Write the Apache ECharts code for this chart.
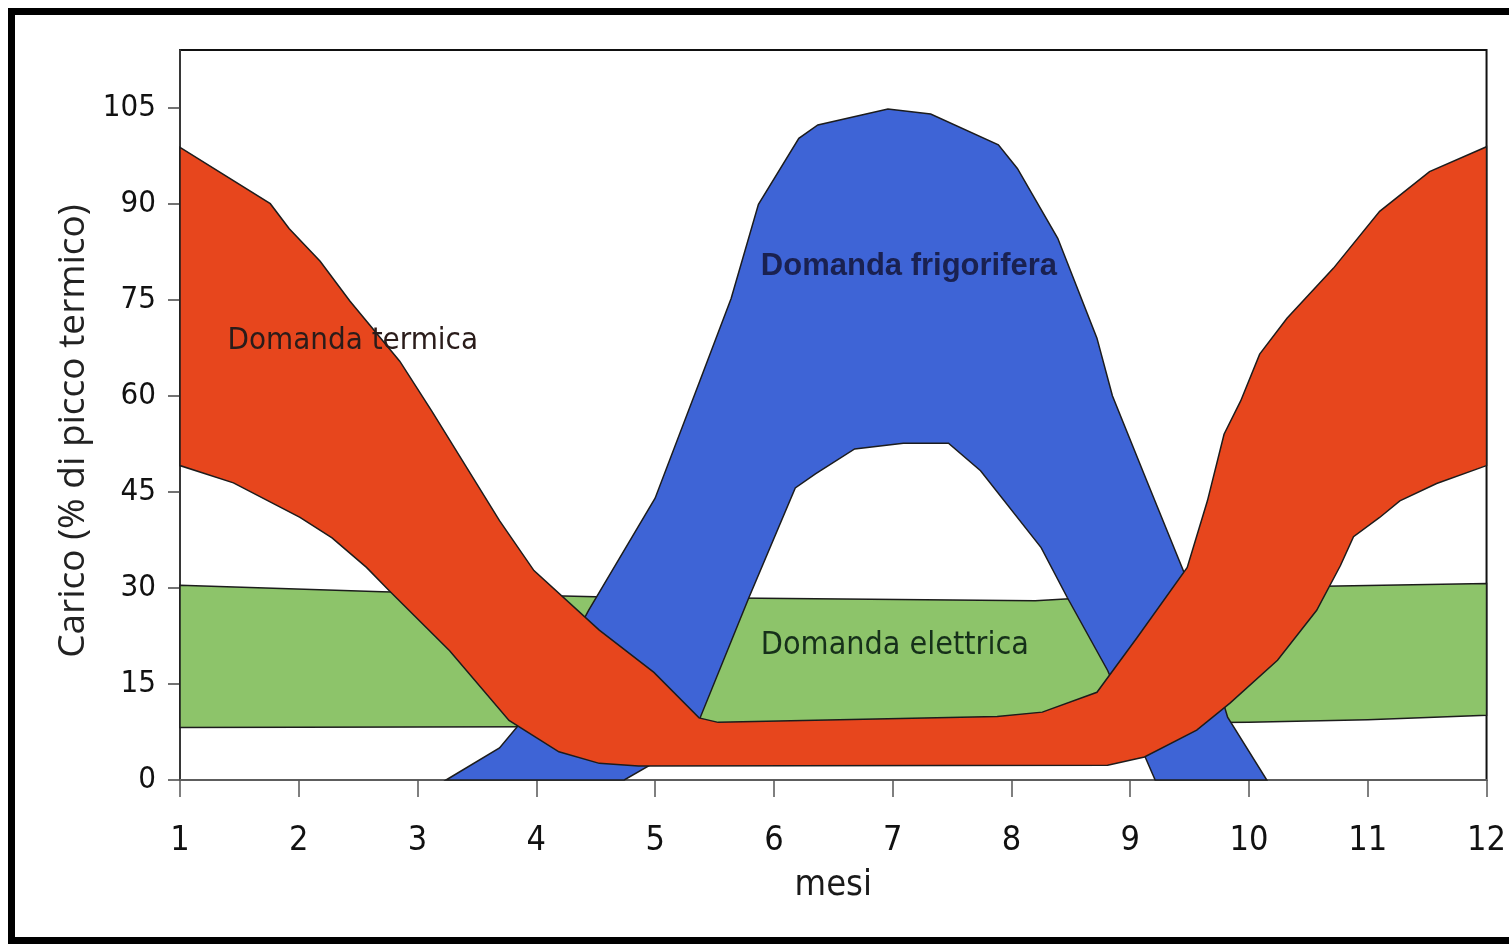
<!DOCTYPE html>
<html>
<head>
<meta charset="utf-8">
<script src="https://cdn.jsdelivr.net/npm/echarts@6/dist/echarts.min.js"></script>
<style>
  html, body { margin: 0; padding: 0; background: #fff; }
  #chart { position: absolute; left: 0; top: 0; width: 1509px; height: 944px; }
  #frame {
    position: absolute; left: 8px; top: 8px; width: 1501px; height: 936px;
    box-sizing: border-box; border: 7px solid #000; border-right: none;
    pointer-events: none;
  }
</style>
</head>
<body>
<div id="chart"></div>
<div id="frame"></div>
<script>
// mesi e tacche
const months = [1, 2, 3, 4, 5, 6, 7, 8, 9, 10, 11, 12];
const yTicks = [0, 15, 30, 45, 60, 75, 90, 105];

// bordi delle fasce: [mese, carico %]
const elecUpper = [[1, 30.4], [2.7, 29.4], [4.5, 28.6], [8.2, 28.0], [9.5, 29.4], [10.5, 30.2], [12, 30.7]];
const elecLower = [[1, 8.2], [4, 8.3], [8, 8.7], [10, 9.0], [11, 9.4], [12, 10.1]];

const coolUpper = [[3.24, 0], [3.69, 5.0], [4.05, 13], [4.44, 26.5], [5.0, 44], [5.37, 62], [5.64, 75.2],
  [5.87, 89.9], [6.21, 100.2], [6.37, 102.3], [6.96, 104.8], [7.32, 104.0], [7.89, 99.2], [8.05, 95.5],
  [8.39, 84.6], [8.72, 69], [8.85, 60], [9.14, 46.7], [9.48, 31.2], [9.82, 9.8], [10.15, 0]];
const coolLower = [[4.74, 0], [5.03, 3.1], [5.37, 9.3], [5.79, 28.5], [6.18, 45.6], [6.35, 47.8],
  [6.68, 51.7], [7.09, 52.6], [7.47, 52.6], [7.74, 48.3], [8.25, 36.3], [8.47, 28.5], [8.81, 17.1], [9.21, 0]];

const heatUpper = [[1, 98.8], [1.76, 90.0], [1.92, 86.1], [2.18, 81.0], [2.43, 74.8], [2.85, 65.4],
  [3.12, 57.6], [3.69, 40.5], [3.98, 32.7], [4.53, 23.4], [4.99, 16.8], [5.37, 9.7], [5.53, 9.0],
  [7.88, 9.9], [8.26, 10.6], [8.72, 13.7], [9.06, 22.3], [9.48, 33.2], [9.65, 43.6], [9.79, 54.0],
  [9.93, 59.2], [10.09, 66.5], [10.32, 72.1], [10.71, 79.9], [11.1, 88.8], [11.52, 95.0], [12, 98.9]];
const heatLower = [[1, 49.1], [1.45, 46.4], [2.01, 41.0], [2.28, 37.8], [2.57, 33.2], [2.76, 29.6],
  [3.27, 20.2], [3.77, 9.3], [4.19, 4.4], [4.53, 2.6], [4.86, 2.2], [8.81, 2.3], [9.12, 3.6],
  [9.56, 7.8], [9.84, 12.0], [10.24, 18.7], [10.57, 26.5], [10.77, 33.5], [10.88, 38.0], [11.1, 41.0],
  [11.27, 43.6], [11.58, 46.3], [12, 49.1]];

function band(name, upper, lower, color) {
  return {
    name: name,
    type: 'custom',
    coordinateSystem: 'cartesian2d',
    silent: true,
    data: [upper[0]],
    renderItem: function (params, api) {
      const pts = upper.concat(lower.slice().reverse()).map(p => api.coord(p));
      return {
        type: 'polygon',
        shape: { points: pts },
        style: { fill: color, stroke: '#1c1c1c', lineWidth: 1.5 }
      };
    }
  };
}

const chart = echarts.init(document.getElementById('chart'));
const narrow = '"Liberation Sans Narrow", "DejaVu Sans Condensed", sans-serif';

chart.setOption({
  animation: false,
  backgroundColor: '#fff',
  grid: { left: 180, top: 50, right: 19, bottom: 164, show: true, borderColor: '#111', borderWidth: 2 },
  xAxis: {
    type: 'value', min: 1, max: 12, interval: 1,
    name: 'mesi', nameLocation: 'middle', nameGap: 88,
    nameTextStyle: { fontFamily: narrow, fontSize: 36, color: '#1a1a1a' },
    axisLine: { show: true, lineStyle: { color: '#777', width: 1.5 } },
    axisTick: { show: true, length: 17, lineStyle: { color: '#555', width: 1.5 } },
    axisLabel: {
      customValues: months,
      fontFamily: narrow, fontSize: 34, color: '#111', margin: 44
    },
    splitLine: { show: false }
  },
  yAxis: {
    type: 'value', min: 0, max: 114, interval: 15,
    name: 'Carico (% di picco termico)', nameLocation: 'middle', nameGap: 86,
    nameTextStyle: { fontFamily: '"Open Sans", sans-serif', fontSize: 37, color: '#222', padding: [0, 32, 0, 0] },
    axisLine: { show: true, lineStyle: { color: '#444', width: 1.5 } },
    axisTick: { show: true, customValues: yTicks, length: 12, lineStyle: { color: '#444', width: 1.5 } },
    axisLabel: {
      customValues: yTicks,
      fontFamily: narrow, fontSize: 31, color: '#111', margin: 24
    },
    splitLine: { show: false }
  },
  series: [
    band('Domanda elettrica', elecUpper, elecLower, '#8dc46a'),
    band('Domanda frigorifera', coolUpper, coolLower, '#3e64d6'),
    band('Domanda termica', heatUpper, heatLower, '#e7461d')
  ]
});

function at(m, v) { return chart.convertToPixel({ gridIndex: 0 }, [m, v]); }
const pTerm = at(1.40, 68.5), pFrig = at(5.89, 80.2), pElet = at(5.89, 21.0);
chart.setOption({
  graphic: [
    { type: 'text', x: pTerm[0], y: pTerm[1], z: 100, silent: true,
      style: { text: 'Domanda termica', fill: '#2a1c1a', font: '31px "DejaVu Sans Condensed", sans-serif', verticalAlign: 'middle' } },
    { type: 'text', x: pFrig[0], y: pFrig[1], z: 100, silent: true,
      style: { text: 'Domanda frigorifera', fill: '#1a2150', font: 'bold 31px "Liberation Sans Narrow", sans-serif', verticalAlign: 'middle' } },
    { type: 'text', x: pElet[0], y: pElet[1], z: 100, silent: true,
      style: { text: 'Domanda elettrica', fill: '#16301a', font: '32px "DejaVu Sans Condensed", sans-serif', verticalAlign: 'middle' } }
  ]
});
</script>
</body>
</html>
